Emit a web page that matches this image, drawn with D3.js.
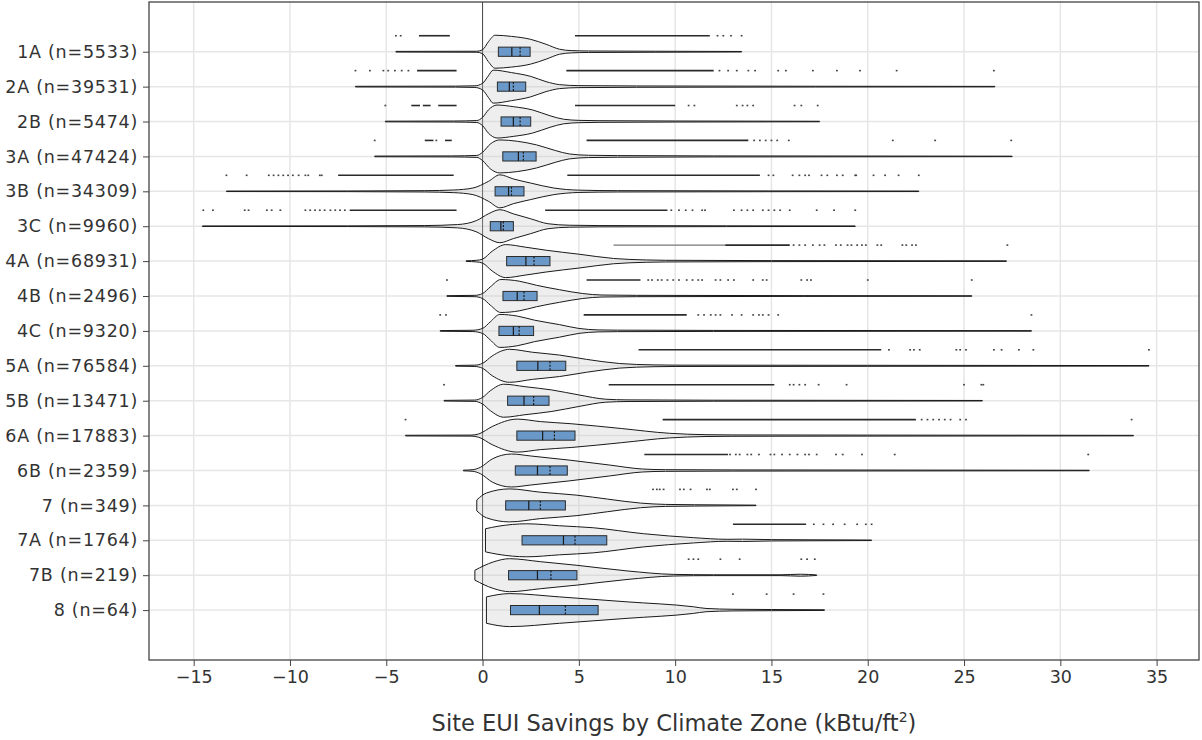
<!DOCTYPE html>
<html>
<head>
<meta charset="utf-8">
<script src="https://cdn.jsdelivr.net/npm/d3@7"></script>
<style>
  html, body { margin: 0; padding: 0; background: #fff; }
  svg { display: block; font-family: "DejaVu Sans", Verdana, sans-serif; }
</style>
</head>
<body>
<svg id="chart" width="1202" height="740"></svg>
<script>
// Climate zones and sample counts
const zones  = ["1A","2A","2B","3A","3B","3C","4A","4B","4C","5A","5B","6A","6B","7","7A","7B","8"];
const counts = [5533,39531,5474,47424,34309,9960,68931,2496,9320,76584,13471,17883,2359,349,1764,219,64];

// Box statistics (kBtu/ft²)
const q1Vals     = [0.82,0.77,0.96,1.05,0.65,0.40,1.25,1.06,0.85,1.78,1.30,1.78,1.70,1.20,2.05,1.35,1.45];
const medianVals = [1.52,1.39,1.60,1.86,1.35,0.95,2.25,1.80,1.60,2.87,2.15,3.12,2.85,2.40,4.20,2.85,2.95];
const meanVals   = [1.95,1.60,1.95,2.12,1.50,1.08,2.67,2.15,1.90,3.50,2.65,3.73,3.50,3.00,4.80,3.55,4.30];
const q3Vals     = [2.47,2.24,2.50,2.78,2.15,1.60,3.50,2.83,2.65,4.32,3.45,4.80,4.40,4.30,6.45,4.90,6.00];

// Density profiles: [savings, relative half-width], first and last entries are the data extremes
const densityProfiles = [
  [[-4.5,.02],[-0.3,.03],[0,.12],[0.3,.6],[0.65,1],[1.5,.93],[2.5,.75],[3.3,.45],[4,.15],[4.6,.07],[5.5,.045],[9,.03],[13.45,.015]],
  [[-6.6,.02],[-1.4,.03],[-0.4,.05],[0,.2],[0.3,.65],[0.55,1],[1.5,.85],[2.5,.62],[3.3,.3],[4.0,.12],[5,.06],[8,.04],[26.6,.015]],
  [[-5.05,.02],[-1.5,.03],[-0.3,.06],[0,.25],[0.3,.7],[0.75,1],[1.6,.9],[2.6,.7],[3.5,.35],[4.2,.14],[5,.07],[6,.05],[10,.03],[17.5,.015]],
  [[-5.6,.02],[-1.6,.03],[-0.3,.06],[0,.25],[0.4,.75],[0.9,1],[1.8,.92],[2.8,.7],[3.8,.35],[4.5,.15],[5.5,.07],[7,.05],[12,.03],[27.5,.015]],
  [[-13.3,.015],[-7,.02],[-3,.04],[-1.5,.08],[-0.5,.2],[0.3,.6],[0.9,1],[1.6,.75],[2.5,.5],[3.7,.2],[5,.07],[7,.04],[22.65,.015]],
  [[-14.55,.015],[-7,.02],[-3,.04],[-1.3,.1],[-0.3,.35],[0.3,.75],[0.9,1],[1.6,.75],[2.5,.45],[3.4,.15],[4.5,.06],[6,.04],[19.35,.015]],
  [[-0.85,.02],[-0.3,.05],[0,.12],[0.5,.6],[1.2,1],[2.2,.85],[3.3,.66],[5,.42],[6.8,.16],[8.5,.07],[9.5,.05],[15,.03],[27.2,.015]],
  [[-1.85,.02],[-0.4,.04],[0,.15],[0.4,.55],[0.95,1],[1.9,.9],[2.8,.65],[4,.38],[5.2,.15],[6.2,.06],[8,.04],[25.4,.015]],
  [[-2.2,.02],[-0.5,.04],[0,.15],[0.4,.55],[0.9,1],[1.8,.9],[2.7,.65],[4,.38],[5,.15],[6,.06],[7,.045],[12,.03],[28.5,.015]],
  [[-1.4,.02],[-0.4,.04],[0,.15],[0.5,.6],[1.4,1],[2.6,.82],[4,.65],[5.4,.39],[7.1,.14],[8.9,.055],[10,.04],[20,.03],[34.6,.015]],
  [[-2.0,.02],[-0.4,.04],[0,.2],[0.4,.6],[1.1,1],[2.2,.85],[3.6,.65],[5,.35],[6.4,.09],[7.5,.05],[12,.03],[25.95,.015]],
  [[-4.0,.02],[-0.6,.03],[-0.2,.1],[0.5,.55],[1.8,1],[3,.85],[4.6,.72],[7.2,.43],[9.7,.14],[11.6,.055],[13,.04],[20,.03],[33.8,.015]],
  [[-1.0,.02],[-0.5,.05],[-0.1,.2],[0.5,.7],[1.5,1],[2.5,.88],[4.5,.63],[6.6,.33],[8.3,.09],[9.5,.05],[13,.035],[31.5,.015]],
  [[-0.3,.33],[0.2,.75],[1.4,1],[3,.8],[4.9,.62],[6.5,.38],[8.2,.14],[9.5,.06],[11,.04],[14.2,.015]],
  [[0.15,.7],[0.8,.85],[2.3,1],[4,.88],[5.75,.76],[8.35,.4],[10.95,.16],[12.7,.06],[13.5,.07],[15,.04],[17,.03],[20.2,.015]],
  [[-0.4,.3],[0.55,.8],[1.4,1],[3,.82],[4.9,.6],[7.5,.26],[9.9,.05],[12,.025],[15.5,.025],[16.5,.06],[17.35,.015]],
  [[0.2,.8],[1.4,1],[4,.8],[7.5,.5],[10.95,.2],[11.6,.1],[13,.05],[15,.035],[17.75,.02]]
];

// Outliers: dense runs of points [from, to], thinner runs, and individual points
const outlierRuns = [
  [[-3.3,-1.7],[4.8,11.8]],
  [[-3.4,-1.35],[4.35,12.0]],
  [[-3.7,-3.25],[-3.1,-2.7],[-2.3,-1.35],[4.8,10.0]],
  [[-3.0,-2.55],[-1.95,-1.6],[5.4,13.8]],
  [[-7.5,-1.5],[4.4,14.4]],
  [[-6.9,-1.35],[3.25,9.6]],
  [[12.6,15.95]],
  [[5.4,8.2]],
  [[5.25,10.6]],
  [[8.1,20.7]],
  [[6.55,15.15]],
  [[9.35,22.5]],
  [[8.4,12.75]],
  [],
  [[13.0,16.8]],
  [],
  []
];
const faintRuns = [[],[],[],[],[],[],[[6.8,12.6]],[],[],[],[],[],[],[],[],[],[]];
const outlierPoints = [
  [-4.5,-4.25,12.2,12.5,12.9,13.45],
  [-6.6,-5.85,-5.15,-4.9,-4.55,-4.2,-3.85,12.3,12.75,13.2,13.8,14.15,15.35,15.75,17.15,18.4,19.6,21.5,26.55],
  [-5.05,10.7,11.0,13.2,13.5,13.75,14.05,16.2,16.55,17.4],
  [-5.6,-2.4,14.1,14.4,14.7,15.0,15.3,15.9,21.3,23.5,27.45],
  [-13.3,-12.25,-11.1,-10.85,-10.6,-10.35,-10.1,-9.85,-9.55,-9.2,-9.05,-8.45,-8.35,
   14.85,15.1,16.1,16.45,16.75,16.95,17.6,17.9,18.4,18.7,19.35,19.4,20.3,20.9,21.6,22.65],
  [-14.5,-14.0,-12.35,-12.15,-11.2,-10.95,-10.5,-9.2,-8.95,-8.7,-8.45,-8.2,-7.9,-7.65,-7.4,-7.15,
   9.8,10.2,10.55,10.9,11.4,11.55,13.05,13.45,13.75,14.05,14.55,14.85,15.15,15.45,15.95,17.35,18.25,19.35],
  [16.15,16.45,16.75,17.15,17.5,17.75,18.35,18.6,18.95,19.15,19.45,19.7,19.9,20.5,20.7,21.8,22.0,22.3,22.5,27.25],
  [-1.85,8.6,8.8,9.1,9.3,9.6,9.9,10.2,10.6,10.9,11.2,11.4,12.1,12.35,12.75,13.05,14.05,14.55,14.75,16.55,16.85,17.05,20.0,25.4],
  [-2.2,-1.9,11.2,11.5,11.85,12.1,12.35,12.95,13.45,14.05,14.35,14.55,14.85,15.35,28.5],
  [21.1,22.2,22.4,22.7,24.6,24.8,25.1,26.55,26.95,27.85,28.6,34.6],
  [-2.0,15.95,16.15,16.45,16.75,17.45,18.9,25.0,25.9,26.0],
  [-4.0,22.8,23.1,23.4,23.7,24.0,24.3,24.8,25.1,33.7],
  [12.85,13.15,13.35,13.75,13.95,14.35,14.95,15.15,15.55,15.95,16.35,16.75,16.95,17.35,18.35,18.7,19.7,21.4,31.45],
  [8.85,9.05,9.2,9.4,10.25,10.45,10.8,11.65,11.8,13.0,13.2,14.2],
  [17.2,17.7,18.2,18.8,19.45,19.9,20.2],
  [10.7,10.95,11.2,12.35,13.35,16.55,16.85,17.25],
  [13.0,14.75,16.15,17.7]
];

const xTicks = [-15,-10,-5,0,5,10,15,20,25,30,35];

// Layout
const plot = { left: 149, right: 1199, top: 2, bottom: 660 };
const svg = d3.select("#chart");

const x = d3.scaleLinear().domain([-17.32, 37.2]).range([plot.left, plot.right]);
const y = d3.scaleLinear().domain([-1.425, 17.43]).range([plot.top, plot.bottom]);

const halfWidth = 16.5;   // max violin half-height in px
const boxHalf = 4.6;
const pointOffset = 16;   // outliers sit above the violin centre

// Grid
const grid = svg.append("g");
grid.selectAll("line.v").data(xTicks.filter(d => d !== 0)).join("line")
  .attr("x1", d => x(d)).attr("x2", d => x(d))
  .attr("y1", plot.top).attr("y2", plot.bottom)
  .attr("stroke", "#e6e6e6").attr("stroke-width", 1.5);
grid.selectAll("line.h").data(zones).join("line")
  .attr("x1", plot.left).attr("x2", plot.right)
  .attr("y1", (d, i) => y(i)).attr("y2", (d, i) => y(i))
  .attr("stroke", "#e6e6e6").attr("stroke-width", 1.5);

// Zero line
svg.append("line")
  .attr("x1", x(0)).attr("x2", x(0))
  .attr("y1", plot.top).attr("y2", plot.bottom)
  .attr("stroke", "#444").attr("stroke-width", 1);

const rows = svg.append("g").selectAll("g").data(zones).join("g");

// Violins (translucent fill so grid and zero line show through)
rows.append("path")
  .attr("d", (d, i) => {
    const cy = y(i);
    return d3.area()
      .x(p => x(p[0]))
      .y0(p => cy + p[1] * halfWidth)
      .y1(p => cy - p[1] * halfWidth)
      .curve(d3.curveMonotoneX)(densityProfiles[i]);
  })
  .attr("fill", "rgba(200,200,200,0.3)")
  .attr("stroke", "#1a1a1a")
  .attr("stroke-width", 1)
  .attr("stroke-linejoin", "round");

// Boxes
rows.append("rect")
  .attr("x", (d, i) => x(q1Vals[i]))
  .attr("width", (d, i) => x(q3Vals[i]) - x(q1Vals[i]))
  .attr("y", (d, i) => y(i) - boxHalf)
  .attr("height", boxHalf * 2)
  .attr("fill", "#6a98c8")
  .attr("stroke", "#2b2b2b")
  .attr("stroke-width", 1);

// Median (solid) and mean (dashed)
rows.append("line")
  .attr("x1", (d, i) => x(medianVals[i])).attr("x2", (d, i) => x(medianVals[i]))
  .attr("y1", (d, i) => y(i) - boxHalf).attr("y2", (d, i) => y(i) + boxHalf)
  .attr("stroke", "#1a1a1a").attr("stroke-width", 1.2);
rows.append("line")
  .attr("x1", (d, i) => x(meanVals[i])).attr("x2", (d, i) => x(meanVals[i]))
  .attr("y1", (d, i) => y(i) - boxHalf).attr("y2", (d, i) => y(i) + boxHalf)
  .attr("stroke", "#1a1a1a").attr("stroke-width", 1.2)
  .attr("stroke-dasharray", "2,1.5");

// Outlier runs and points
rows.each(function(d, i) {
  const g = d3.select(this);
  const py = y(i) - pointOffset;
  g.selectAll("line.faint").data(faintRuns[i]).join("line")
    .attr("x1", r => x(r[0])).attr("x2", r => x(r[1]))
    .attr("y1", py).attr("y2", py)
    .attr("stroke", "#777").attr("stroke-width", 1.3);
  g.selectAll("line.run").data(outlierRuns[i]).join("line")
    .attr("x1", r => x(r[0])).attr("x2", r => x(r[1]))
    .attr("y1", py).attr("y2", py)
    .attr("stroke", "#2a2a2a").attr("stroke-width", 1.6);
  g.selectAll("rect.pt").data(outlierPoints[i]).join("rect")
    .attr("x", v => x(v) - 0.9).attr("y", py - 0.8)
    .attr("width", 1.8).attr("height", 1.6)
    .attr("fill", "#444");
});

// Frame
svg.append("rect")
  .attr("x", plot.left).attr("y", plot.top)
  .attr("width", plot.right - plot.left).attr("height", plot.bottom - plot.top)
  .attr("fill", "none").attr("stroke", "#444").attr("stroke-width", 1.3);

// Axes
const xAxis = svg.append("g")
  .attr("transform", `translate(0,${plot.bottom})`)
  .call(d3.axisBottom(x).tickValues(xTicks).tickSize(6).tickPadding(5).tickFormat(d3.format("d")));
xAxis.select(".domain").remove();
xAxis.selectAll("line").attr("stroke", "#444");
xAxis.selectAll("text").attr("font-size", 17.5).attr("fill", "#333").attr("font-family", "DejaVu Sans, Verdana, sans-serif");

const yAxis = svg.append("g")
  .attr("transform", `translate(${plot.left},0)`)
  .call(d3.axisLeft(y).tickValues(d3.range(zones.length)).tickSize(6).tickPadding(5)
    .tickFormat(i => `${zones[i]} (n=${counts[i]})`));
yAxis.select(".domain").remove();
yAxis.selectAll("line").attr("stroke", "#444");
yAxis.selectAll("text").attr("font-size", 17.5).attr("letter-spacing", 0.75)
  .attr("fill", "#333").attr("font-family", "DejaVu Sans, Verdana, sans-serif");

// Axis title
const title = svg.append("text")
  .attr("x", (plot.left + plot.right) / 2)
  .attr("y", 731)
  .attr("text-anchor", "middle")
  .attr("font-size", 22.5)
  .attr("fill", "#333");
title.append("tspan").text("Site EUI Savings by Climate Zone (kBtu/ft");
title.append("tspan").attr("dy", -9).attr("font-size", 14).text("2");
title.append("tspan").attr("dy", 9).text(")");
</script>
</body>
</html>
